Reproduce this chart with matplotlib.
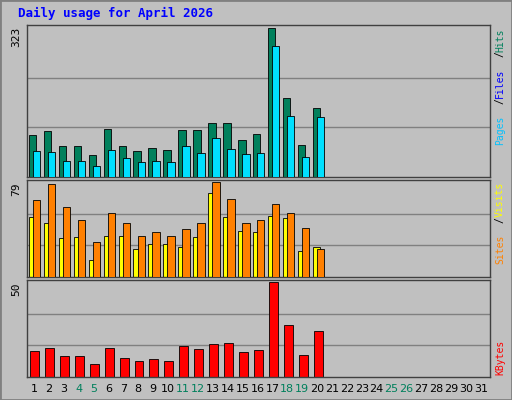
import matplotlib
matplotlib.use("Agg")
import matplotlib.pyplot as plt
import numpy as np

days = list(range(1, 32))
weekend = [4, 5, 11, 12, 18, 19, 25, 26]
hits = [91, 100, 67, 67, 48, 104, 67, 56, 63, 59, 102, 102, 117, 117, 80, 93, 323, 171, 69, 150]
files = [56, 54, 35, 35, 24, 59, 41, 33, 35, 33, 67, 52, 85, 61, 50, 52, 284, 132, 43, 130]
visits = [64, 77, 58, 47, 29, 53, 45, 34, 37, 34, 40, 45, 79, 65, 45, 47, 61, 53, 41, 23]
sites = [50, 45, 32, 33, 14, 34, 34, 23, 27, 27, 25, 33, 70, 50, 38, 37, 51, 49, 22, 25]
kbytes = [13.7, 15.4, 11, 11, 6.6, 15.4, 9.9, 8.2, 9.3, 8.2, 16.5, 14.8, 17.6, 18.1, 13.2, 14.3, 50, 27.5, 11.5, 24.2]

W, H = 512, 400
BG = "#C0C0C0"
fig = plt.figure(figsize=(W / 100, H / 100), dpi=100, facecolor=BG)
fig.patches.append(plt.Rectangle((0, 0), 1, 1, transform=fig.transFigure,
                                 fill=False, edgecolor="#808080", lw=2))


def panel(top, bottom):
    ax = fig.add_axes([27 / W, 1 - bottom / H, (490 - 27) / W, (bottom - top) / H])
    ax.set_facecolor(BG)
    ax.set_xlim(0.5, 31.5)
    ax.set_xticks([])
    ax.set_yticks([])
    for s in ax.spines.values():
        s.set_color("#404040")
        s.set_linewidth(1)
    return ax


def grid(ax, vmax):
    ax.set_ylim(0, vmax * 1.02)
    for f in (1 / 3, 2 / 3):
        ax.axhline(vmax * f, color="#808080", lw=1, zorder=0)


x = np.arange(1, len(hits) + 1)
mono = "DejaVu Sans Mono"

ax1 = panel(25, 177)
grid(ax1, 323)
ax1.bar(x - 0.12, hits, width=0.5, color="#00805c", edgecolor="black", lw=0.6, zorder=2)
ax1.bar(x + 0.15, files, width=0.5, color="#00e0ff", edgecolor="black", lw=0.6, zorder=3)

ax2 = panel(180, 277)
grid(ax2, 79)
ax2.bar(x - 0.12, sites, width=0.5, color="#ffff00", edgecolor="black", lw=0.6, zorder=2)
ax2.bar(x + 0.15, visits, width=0.5, color="#ff8000", edgecolor="black", lw=0.6, zorder=3)

ax3 = panel(280, 377)
grid(ax3, 50)
ax3.bar(x, kbytes, width=0.6, color="#ff0000", edgecolor="black", lw=0.6, zorder=2)

fig.text(18 / W, 1 - 13 / H, "Daily usage for April 2026", color="#0000ff",
         family=mono, weight="bold", fontsize=9, va="center")

for lab, y in (("323", 27), ("79", 182), ("50", 282)):
    fig.text(16 / W, 1 - y / H, lab, rotation=90, family=mono, fontsize=8,
             va="top", ha="center")

# stacked rotated labels on the right, each colored part placed by char count
def side(parts, ytop, fs=7):
    step = 0.6 * fs * 100 / 72
    y = ytop
    for txt, col in parts:
        fig.text(500 / W, 1 - y / H, txt.strip(), rotation=90, color=col, family=mono,
                 fontsize=fs, ha="center", va="top")
        y += len(txt) * step

side([("Hits", "#00805c"), (" / ", "black"), ("Files", "#0000ff"), (" / ", "black"), ("Pages", "#00c0ff")], 28)
side([("Visits", "#ffff00"), (" / ", "black"), ("Sites", "#ff8000")], 182)
side([("KBytes", "#ff0000")], 340)

for d in days:
    px = 34 + (d - 1) * (481 - 34) / 30
    fig.text(px / W, 1 - 389 / H, str(d), ha="center", va="center", fontsize=8,
             color="#00805c" if d in weekend else "black")

fig.savefig("out.png", dpi=100, facecolor=BG)
